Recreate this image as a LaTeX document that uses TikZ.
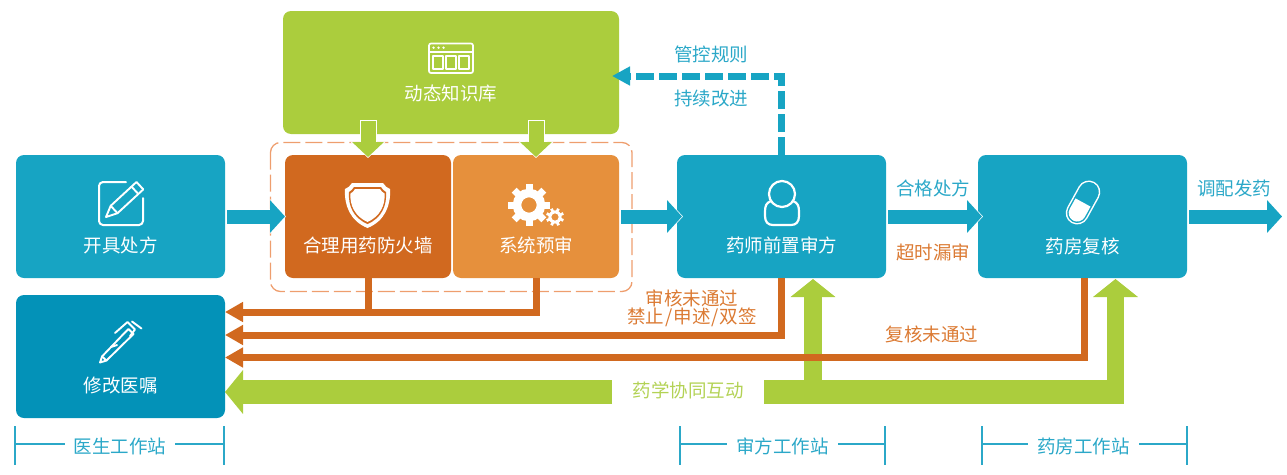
\documentclass[tikz,border=0pt]{standalone}
\usepackage{fontspec}
\setmainfont{Noto Sans CJK SC}
\usetikzlibrary{arrows.meta,calc}
\definecolor{cblue}{HTML}{17A4C3}
\definecolor{cdeep}{HTML}{0392B8}
\definecolor{cgreen}{HTML}{ABCD3D}
\definecolor{cfire}{HTML}{D1691F}
\definecolor{cpre}{HTML}{E6903C}
\definecolor{cdash}{HTML}{EE9E6E}
\definecolor{ctext}{HTML}{2BA8C8}
\definecolor{corange}{HTML}{DB7A33}
\definecolor{cgtext}{HTML}{B3D255}
\tikzset{
  x=1pt,y=-1pt,
  cjk/.style={font=\fontsize{18.5pt}{22pt}\selectfont,inner sep=0pt,outer sep=0pt},
  boxnode/.style={rectangle,rounded corners=8pt,minimum width=209pt,minimum height=123pt,inner sep=0pt,outer sep=0pt},
  boxtext/.style={cjk,text=white},
  bluetext/.style={cjk,text=ctext},
  orangetext/.style={cjk,text=corange},
  greentext/.style={cjk,text=cgtext},
  icon/.style={draw=white,line width=1.9pt,line join=round,line cap=round},
  blockblue/.style={draw=cblue,line width=14pt,
    preaction={draw=white,line width=15.5pt,shorten >=-1pt,-{Triangle[length=16pt,width=34pt]}},
    -{Triangle[length=15pt,width=32pt]}},
  blockgreen/.style={draw=cgreen,line width=15pt,
    preaction={draw=white,line width=17pt,shorten >=-1pt,shorten <=-1pt,-{Triangle[length=16pt,width=34pt]}},
    -{Triangle[length=15pt,width=31pt]}},
  orangeline/.style={draw=cfire,line width=7pt,line join=miter},
  orangearrow/.style={orangeline,-{Triangle[length=18pt,width=19pt]}},
  dashblue/.style={draw=cblue,line width=7pt,dash pattern=on 18pt off 5pt,-{Triangle[length=18pt,width=18pt]}},
  greenbar/.style={draw=cgreen,line width=24pt},
  greenup/.style={draw=cgreen,line width=17.5pt,-{Triangle[length=18pt,width=44pt]}},
  greenleft/.style={draw=cgreen,line width=24pt,-{Triangle[length=18pt,width=43pt]}},
  bracketv/.style={draw=ctext,line width=2pt},
  bracketh/.style={draw=ctext,line width=1.5pt},
  stationtext/.style={cjk,text=ctext,inner xsep=9pt},
}
\begin{document}
\begin{tikzpicture}
\useasboundingbox (0,0) rectangle (1287,474);
% dashed group frame
\draw[cdash,line width=1.3pt,rounded corners=10pt,dash pattern=on 17pt off 5pt] (270.5,142.5) rectangle (632,291.5);
% boxes
\node[boxnode,fill=cblue] (rx) at (120.5,216.5) {};
\node[boxnode,fill=cdeep] (mod) at (120.5,356.5) {};
\node[boxnode,fill=cgreen,minimum width=336pt] (kb) at (451,72.5) {};
\node[boxnode,fill=cfire,minimum width=166pt] (fw) at (368,216.5) {};
\node[boxnode,fill=cpre,minimum width=166pt] (pre) at (536,216.5) {};
\node[boxnode,fill=cblue] (doc) at (781.5,216.5) {};
\node[boxnode,fill=cblue] (room) at (1082.5,216.5) {};
% box texts
\node[boxtext] (trx) at (120.5,245.5) {开具处方};
\node[boxtext] (tmod) at (120.5,385.5) {修改医嘱};
\node[boxtext] (tkb) at (451,93.5) {动态知识库};
\node[boxtext] (tfw) at (368,245.5) {合理用药防火墙};
\node[boxtext] (tpre) at (536,245.5) {系统预审};
\node[boxtext] (tdoc) at (781.5,245.5) {药师前置审方};
\node[boxtext] (troom) at (1082.5,246.5) {药房复核};
% free labels
\node[bluetext] (l1) at (711,54) {管控规则};
\node[bluetext] (l2) at (711,99) {持续改进};
\node[bluetext] (l3) at (933,188.5) {合格处方};
\node[orangetext] (l4) at (933,252.5) {超时漏审};
\node[bluetext] (l5) at (1234,188.5) {调配发药};
\node[orangetext] (l6) at (692,298.5) {审核未通过};
\node[orangetext] (l7) at (692,317.5) {禁止\kern1pt/\kern1pt申述\kern1pt/\kern1pt双签};
\node[orangetext] (l8) at (932,334.5) {复核未通过};
\node[greentext,minimum width=152pt] (syn) at (688,390.5) {药学协同互动};
% named free ends
\coordinate (out) at (1282,216.5);
\coordinate (k1) at (368,121);
\coordinate (k2) at (536,121);
\coordinate (bus) at (368,312);
\coordinate (g0) at (764,392);
\coordinate (g9) at (1124,392);
\coordinate (g1) at (813,392);
\coordinate (g2) at (1115.5,392);
\coordinate (g3) at (612,392);
% green arrows
\draw[greenup] (g1) -- ([xshift=31.5pt,yshift=-1pt]doc.south);
\draw[greenup] (g2) -- ([xshift=33pt,yshift=-1pt]room.south);
\draw[greenbar] (g0) -- (g9);
\draw[greenleft] (g3) -- (mod.east |- g3);
% blue block arrows
\draw[blockblue] ([xshift=2pt]rx.east) -- (fw.west);
\draw[blockblue] ([xshift=2pt]pre.east) -- ([xshift=5pt]doc.west);
\draw[blockblue] ([xshift=2pt]doc.east) -- ([xshift=4pt]room.west);
\draw[blockblue] ([xshift=2pt]room.east) -- (out);
% knowledge base arrows
\draw[blockgreen] (k1) -- ([yshift=-2pt]fw.north);
\draw[blockgreen] (k2) -- ([yshift=-2pt]pre.north);
% orange lines
\draw[orangearrow] (fw.south) |- ([yshift=44.5pt]mod.east);
\draw[orangeline] (pre.south) |- (bus);
\draw[orangearrow] (doc.south) |- ([yshift=21.5pt]mod.east);
\draw[orangearrow] ([xshift=2pt]room.south) |- ([yshift=-1pt]mod.east);
% dashed feedback
\draw[dashblue] (doc.north) |- ([xshift=-7pt,yshift=-3.5pt]kb.east);
% station brackets
\node[stationtext] (s1) at (120,446.5) {医生工作站};
\node[stationtext] (s2) at (782.5,446.5) {审方工作站};
\node[stationtext] (s3) at (1083.5,446.5) {药房工作站};
\coordinate (a1) at (15,444); \coordinate (b1) at (224,444);
\coordinate (a2) at (680,444); \coordinate (b2) at (885,444);
\coordinate (a3) at (982,444); \coordinate (b3) at (1187,444);
\foreach \n in {1,2,3}{
  \draw[bracketv] ([yshift=18pt]a\n) -- ([yshift=-21pt]a\n);
  \draw[bracketv] ([yshift=18pt]b\n) -- ([yshift=-21pt]b\n);
  \draw[bracketh] (a\n) -- (a\n -| s\n.west);
  \draw[bracketh] (b\n) -- (b\n -| s\n.east);
}
% icon: note and pencil
\draw[icon,line width=2pt,rounded corners=4pt] (126,182) -- (99,182) -- (99,225) -- (143,225) -- (143,198);
\draw[icon] (106,217) -- (110.7,205.8) -- (136.5,182) -- (143.3,189.4) -- (117.5,213.2) -- cycle;
\draw[icon] (110.7,205.8) -- (117.5,213.2) (131.5,186.6) -- (138.3,194);
% icon: pen
\draw[icon] (100,362.5) -- (102,356.5) -- (123.5,334) -- (128.5,329) -- (133.5,334) -- (106.5,360.5) -- cycle;
\draw[icon] (102,356.5) -- (106.5,360.5);
\draw[icon] (115,333) -- (127.5,322) -- (135,329.5) -- (130,336);
\draw[icon] (132,321.5) -- (141.5,328.5);
\draw[icon] (111,347) -- (117,345);
% icon: shield
\fill[white] (352,183) -- (383,183) .. controls (385,186) and (387,188) .. (390,189) .. controls (391,205) and (385,221) .. (367.5,228) .. controls (350,221) and (344,205) .. (345,189) .. controls (348,188) and (350,186) .. (352,183) -- cycle;
\fill[cfire] (354,187) -- (381,187) .. controls (382,189) and (384,191) .. (386,192) .. controls (387,205) and (382,218) .. (367.5,224) .. controls (353,218) and (348,205) .. (349,192) .. controls (351,191) and (353,189) .. (354,187) -- cycle;
\fill[white] (355,189) -- (380,189) .. controls (381,191) and (382.5,192.5) .. (384.5,193.5) .. controls (385.5,205) and (380,216.5) .. (367.5,222) .. controls (355,216.5) and (349.5,205) .. (350.5,193.5) .. controls (352.5,192.5) and (354,191) .. (355,189) -- cycle;
% icon: gears
\begin{scope}[shift={(529,205)}]
  \draw[white,line width=8.5pt] (0,0) circle (12);
  \foreach \a in {0,45,...,315} \draw[white,line width=7pt] (\a:12) -- (\a:21);
\end{scope}
\begin{scope}[shift={(555,217)}]
  \draw[white,line width=2.8pt] (0,0) circle (5.2);
  \foreach \a in {22,67,...,337} \draw[white,line width=2.8pt] (\a:5) -- (\a:9);
\end{scope}
% icon: window
\draw[icon,line width=1.7pt,rounded corners=2pt] (429,43.5) rectangle (473,73);
\draw[icon,line width=1.7pt] (429,52) -- (473,52);
\fill[white] (433.5,47.7) circle (1.3) (438.5,47.7) circle (1.3) (443.5,47.7) circle (1.3);
\draw[icon,line width=1.7pt,line cap=butt] (432.7,56) rectangle (442.7,68.7) (446,56) rectangle (456,68.7) (459.3,56) rectangle (469.3,68.7);
% icon: person
\draw[icon,line width=2.2pt] (782,194) circle (13);
\draw[icon,line width=2.2pt] (771,201) .. controls (766,203) and (765,206) .. (765,212) -- (765,216) .. controls (765,222) and (768,225) .. (773,225) -- (791,225) .. controls (796,225) and (799,222) .. (799,216) -- (799,212) .. controls (799,206) and (798,203) .. (793,201);
% icon: pill
\draw[white,line width=23pt,line cap=round] (1077.2,213) -- (1088.8,192);
\draw[cblue,line width=20pt,line cap=round] (1077.2,213) -- (1088.8,192);
\fill[white] (1090.5,206.6) -- (1084.7,217.1) .. controls (1082.4,221.2) and (1077.2,222.8) .. (1073.1,220.5) .. controls (1069,218.2) and (1067.4,213) .. (1069.7,208.9) -- (1075.5,198.4) -- cycle;
\end{tikzpicture}
\end{document}
